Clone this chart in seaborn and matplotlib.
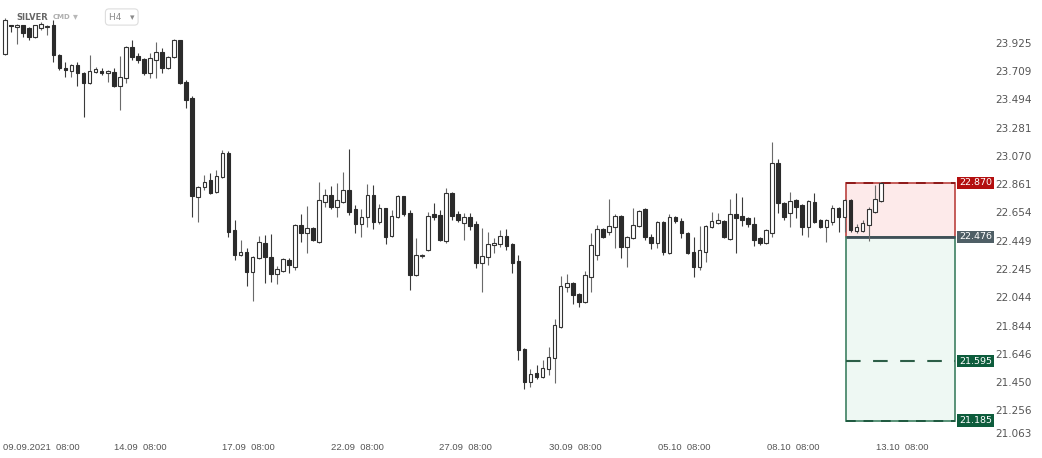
import numpy as np
import pandas as pd
import matplotlib.pyplot as plt
import matplotlib.transforms as mtransforms
import seaborn as sns
from matplotlib import font_manager
from matplotlib.patches import Rectangle
from matplotlib.ticker import NullLocator, NullFormatter

# H4 candles, SILVER
opens = [
    23.841, 24.063, 24.048, 24.063, 24.040, 23.971, 24.040, 24.048, 24.063, 23.833,
    23.733, 23.710, 23.756, 23.695, 23.619, 23.703, 23.710, 23.695, 23.703, 23.596,
    23.657, 23.894, 23.825, 23.802, 23.695, 23.795, 23.856, 23.733, 23.818, 23.948,
    23.627, 23.505, 22.766, 22.839, 22.891, 22.802, 22.913, 23.091, 22.524, 22.343,
    22.365, 22.221, 22.322, 22.430, 22.329, 22.207, 22.228, 22.307, 22.256, 22.561,
    22.503, 22.539, 22.437, 22.729, 22.780, 22.692, 22.729, 22.817, 22.678, 22.568,
    22.619, 22.780, 22.583, 22.685, 22.481, 22.619, 22.773, 22.648, 22.199, 22.336,
    22.380, 22.641, 22.634, 22.445, 22.795, 22.641, 22.575, 22.619, 22.568, 22.285,
    22.329, 22.416, 22.423, 22.481, 22.423, 22.300, 21.676, 21.453, 21.515, 21.487,
    21.543, 21.620, 21.837, 22.114, 22.142, 22.064, 22.007, 22.185, 22.343, 22.532,
    22.510, 22.546, 22.626, 22.401, 22.466, 22.554, 22.678, 22.474, 22.430, 22.583,
    22.358, 22.619, 22.590, 22.503, 22.365, 22.256, 22.365, 22.546, 22.575, 22.590,
    22.459, 22.641, 22.626, 22.612, 22.568, 22.466, 22.430, 22.503, 23.017, 22.722,
    22.648, 22.744, 22.707, 22.546, 22.729, 22.597, 22.546, 22.583, 22.685, 22.619,
    22.744, 22.517, 22.517, 22.561, 22.656, 22.736,
]
highs = [
    24.117, 24.063, 24.071, 24.063, 24.048, 24.063, 24.086, 24.063, 24.102, 23.841,
    23.779, 23.764, 23.779, 23.703, 23.833, 23.741, 23.733, 23.718, 23.733, 23.825,
    23.902, 23.948, 23.848, 23.810, 23.848, 23.933, 23.887, 23.825, 23.956, 23.948,
    23.642, 23.520, 22.846, 22.928, 22.943, 22.965, 23.113, 23.106, 22.597, 22.452,
    22.394, 22.336, 22.481, 22.488, 22.495, 22.264, 22.322, 22.322, 22.568, 22.641,
    22.700, 22.546, 22.876, 22.824, 22.846, 22.868, 22.950, 23.121, 22.707, 22.678,
    22.861, 22.854, 22.714, 22.685, 22.670, 22.780, 22.773, 22.670, 22.466, 22.351,
    22.656, 22.722, 22.670, 22.832, 22.802, 22.663, 22.648, 22.648, 22.590, 22.539,
    22.510, 22.466, 22.524, 22.532, 22.430, 22.343, 21.683, 21.543, 21.571, 21.606,
    21.690, 21.887, 22.192, 22.207, 22.149, 22.071, 22.228, 22.503, 22.561, 22.539,
    22.751, 22.641, 22.634, 22.481, 22.685, 22.670, 22.685, 22.495, 22.590, 22.590,
    22.641, 22.626, 22.612, 22.510, 22.474, 22.554, 22.561, 22.656, 22.648, 22.597,
    22.751, 22.795, 22.766, 22.619, 22.619, 22.474, 22.532, 23.173, 23.046, 22.729,
    22.802, 22.751, 22.714, 22.744, 22.795, 22.605, 22.605, 22.707, 22.692, 22.751,
    22.751, 22.568, 22.597, 22.692, 22.854, 22.876,
]
lows = [
    23.833, 24.009, 23.917, 23.971, 23.948, 23.963, 24.025, 23.986, 23.779, 23.718,
    23.665, 23.665, 23.596, 23.361, 23.611, 23.695, 23.680, 23.627, 23.589, 23.414,
    23.619, 23.795, 23.772, 23.680, 23.657, 23.657, 23.695, 23.726, 23.810, 23.611,
    23.429, 22.619, 22.583, 22.817, 22.787, 22.795, 22.906, 22.474, 22.307, 22.336,
    22.121, 22.014, 22.314, 22.142, 22.149, 22.135, 22.221, 22.214, 22.235, 22.437,
    22.358, 22.445, 22.430, 22.692, 22.678, 22.619, 22.722, 22.634, 22.503, 22.474,
    22.546, 22.532, 22.568, 22.423, 22.474, 22.612, 22.626, 22.092, 22.192, 22.322,
    22.372, 22.597, 22.445, 22.430, 22.597, 22.583, 22.452, 22.524, 22.249, 22.078,
    22.271, 22.358, 22.401, 22.380, 22.214, 21.606, 21.405, 21.418, 21.473, 21.480,
    21.501, 21.446, 21.830, 22.078, 21.993, 21.972, 22.000, 22.078, 22.307, 22.466,
    22.488, 22.394, 22.322, 22.256, 22.459, 22.546, 22.452, 22.387, 22.394, 22.343,
    22.351, 22.575, 22.466, 22.351, 22.185, 22.235, 22.293, 22.539, 22.568, 22.466,
    22.452, 22.358, 22.554, 22.546, 22.409, 22.416, 22.423, 22.474, 22.648, 22.597,
    22.546, 22.612, 22.488, 22.474, 22.575, 22.539, 22.437, 22.561, 22.510, 22.510,
    22.510, 22.503, 22.510, 22.445, 22.648, 22.729,
]
closes = [
    24.102, 24.056, 24.063, 24.002, 23.971, 24.063, 24.071, 24.056, 23.833, 23.733,
    23.718, 23.756, 23.695, 23.619, 23.710, 23.726, 23.695, 23.710, 23.596, 23.665,
    23.894, 23.818, 23.795, 23.695, 23.810, 23.856, 23.733, 23.818, 23.948, 23.619,
    23.489, 22.773, 22.839, 22.876, 22.795, 22.920, 23.091, 22.510, 22.343, 22.365,
    22.221, 22.329, 22.437, 22.329, 22.207, 22.242, 22.314, 22.271, 22.561, 22.503,
    22.539, 22.452, 22.744, 22.780, 22.692, 22.744, 22.817, 22.656, 22.568, 22.619,
    22.780, 22.583, 22.685, 22.474, 22.626, 22.773, 22.641, 22.199, 22.343, 22.343,
    22.626, 22.619, 22.452, 22.795, 22.626, 22.597, 22.619, 22.554, 22.285, 22.336,
    22.423, 22.430, 22.481, 22.409, 22.285, 21.669, 21.453, 21.508, 21.487, 21.550,
    21.627, 21.851, 22.121, 22.142, 22.057, 22.007, 22.199, 22.416, 22.532, 22.474,
    22.554, 22.626, 22.401, 22.474, 22.561, 22.663, 22.474, 22.430, 22.583, 22.365,
    22.619, 22.590, 22.503, 22.358, 22.256, 22.380, 22.554, 22.590, 22.597, 22.474,
    22.641, 22.612, 22.597, 22.568, 22.452, 22.430, 22.524, 23.017, 22.722, 22.619,
    22.736, 22.692, 22.546, 22.736, 22.583, 22.546, 22.597, 22.685, 22.619, 22.744,
    22.524, 22.546, 22.575, 22.678, 22.751, 22.868,
]

# axis labels
x_tick_pos = [-0.3, 22.4, 40.3, 58.3, 76.3, 94.4, 112.4, 130.5, 148.5]
x_tick_labels = ['09.09.2021  08:00', '14.09  08:00', '17.09  08:00', '22.09  08:00',
                 '27.09  08:00', '30.09  08:00', '05.10  08:00', '08.10  08:00',
                 '13.10  08:00']
y_ticks = [23.925, 23.709, 23.494, 23.281, 23.070, 22.861, 22.654, 22.449,
           22.245, 22.044, 21.844, 21.646, 21.450, 21.256, 21.063]

# trade setup levels
stop_loss = 22.870
entry = 22.476
take_profit_1 = 21.595
take_profit_2 = 21.185
zone_start = 139.2
zone_end = 157.25

df = pd.DataFrame({'open': opens, 'high': highs, 'low': lows, 'close': closes})
df['x'] = np.arange(len(df))
df['up'] = df['close'] >= df['open']

sns.set_theme(style='white')
plt.rcParams['font.family'] = ['DejaVu Sans']

# narrow font for the date labels if one is installed
narrow_font, narrow_size = 'Liberation Sans', 6.8
for name, size in [('DejaVu Sans Condensed', 7.3), ('Liberation Sans Narrow', 8.0)]:
    try:
        font_manager.findfont(font_manager.FontProperties(family=name), fallback_to_default=False)
        narrow_font, narrow_size = name, size
        break
    except ValueError:
        pass

fig = plt.figure(figsize=(10.42, 4.58), dpi=100)
ax = fig.add_axes([0, 19 / 458, 956 / 1042, 431 / 458])
ax.set_yscale('log')
ax.set_xlim(-0.83, 157.45)
ax.set_ylim(21.06, 24.196)

# trade zones
ax.add_patch(Rectangle((zone_start, entry), zone_end - zone_start, stop_loss - entry,
                       facecolor='#fdeaea', edgecolor='#c0504d', lw=1.3, zorder=1))
ax.add_patch(Rectangle((zone_start, take_profit_2), zone_end - zone_start, entry - take_profit_2,
                       facecolor='#eef8f3', edgecolor='#4c8a6d', lw=1.3, zorder=1))
ax.hlines(stop_loss, zone_start, zone_end, colors='#8e1b1b', linestyles=(0, (5, 4)), lw=1.4, zorder=2)
ax.hlines(take_profit_1, zone_start, zone_end, colors='#2c5e47', linestyles=(0, (7, 6)), lw=1.5, zorder=2)
ax.hlines(take_profit_2, zone_start, zone_end, colors='#1f5a40', linestyles=(0, (5, 4)), lw=1.4, zorder=2)
ax.hlines(entry, zone_start, zone_end, colors='#3f4f57', lw=2, zorder=2)

# candles
up = df[df['up']]
dn = df[~df['up']]
ax.vlines(up['x'], up['low'], up['high'], colors='#6a6a6a', lw=0.8, zorder=3)
ax.vlines(dn['x'], dn['low'], dn['high'], colors='#3a3a3a', lw=0.8, zorder=3)
ax.bar(up['x'], up['close'] - up['open'], bottom=up['open'], width=0.6,
       color='white', edgecolor='#333333', linewidth=0.8, zorder=4)
ax.bar(dn['x'], dn['open'] - dn['close'], bottom=dn['close'], width=0.6,
       color='#2b2b2b', edgecolor='#2b2b2b', linewidth=0.8, zorder=4)

# axes styling
ax.yaxis.tick_right()
ax.set_yticks(y_ticks)
ax.set_yticklabels([f'{v:.3f}' for v in y_ticks])
ax.yaxis.set_minor_locator(NullLocator())
ax.yaxis.set_minor_formatter(NullFormatter())
ax.set_xticks(x_tick_pos)
ax.set_xticklabels(x_tick_labels)
ax.tick_params(axis='y', length=0, pad=28, labelsize=7.5, labelcolor='#555555')
ax.tick_params(axis='x', length=0, pad=3, labelsize=narrow_size, labelcolor='#555555')
for lbl in ax.get_xticklabels():
    lbl.set_fontfamily(narrow_font)
ax.get_xticklabels()[0].set_ha('left')
ax.get_yticklabels()[-1].set_va('bottom')
for spine in ax.spines.values():
    spine.set_visible(False)
ax.grid(False)

# price tags at the right edge
trans = mtransforms.blended_transform_factory(ax.transAxes, ax.transData)
for level, colr in [(stop_loss, '#b30f0f'), (entry, '#4f5f66'),
                    (take_profit_1, '#0d5c3c'), (take_profit_2, '#0d5c3c')]:
    ax.text(1.003, level, f'{level:.3f}', transform=trans, ha='left', va='center',
            fontsize=6.8, color='white', clip_on=False, zorder=6,
            bbox=dict(boxstyle='square,pad=0.2', fc=colr, ec='none'))

# header
fig.text(16 / 1042, 1 - 17 / 458, 'SILVER', fontsize=6, fontweight='bold', color='#666666',
         va='center', bbox=dict(boxstyle='square,pad=0.1', fc='white', ec='none', alpha=0.6))
fig.text(53 / 1042, 1 - 17 / 458, 'CMD', fontsize=5, fontweight='bold', color='#b0b0b0', va='center')
fig.text(73 / 1042, 1 - 16 / 458, '▾', fontsize=7, color='#b8b8b8', va='center')
fig.text(109 / 1042, 1 - 17 / 458, 'H4   ▾', fontsize=6.5, color='#8a8a8a', va='center',
         bbox=dict(boxstyle='round,pad=0.4', fc='white', ec='#dddddd', lw=0.8))

fig.savefig('out.png', dpi=100)
